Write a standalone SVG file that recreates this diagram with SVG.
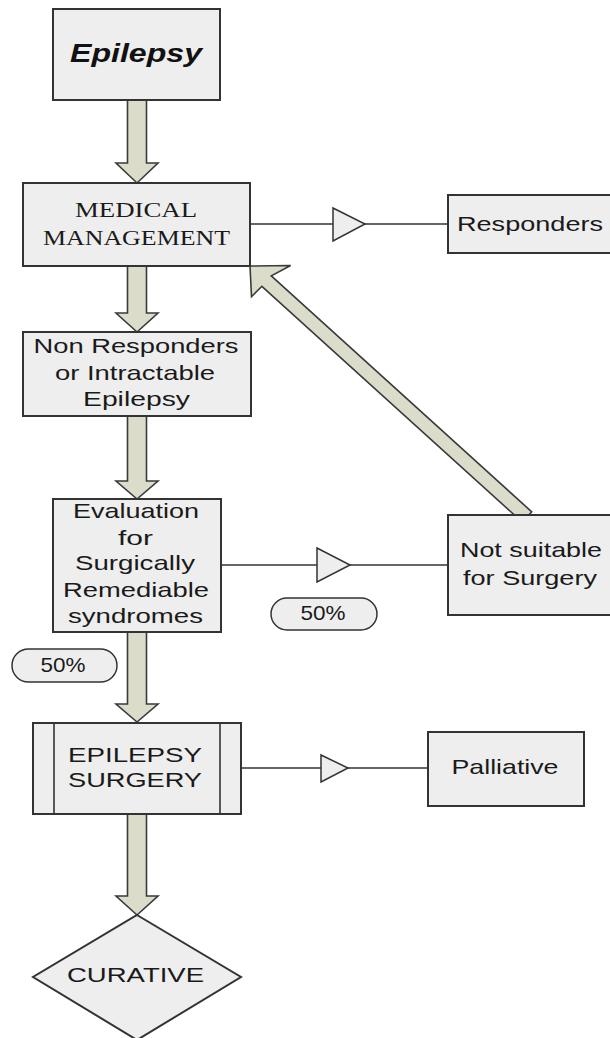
<svg xmlns="http://www.w3.org/2000/svg" width="610" height="1038" viewBox="0 0 610 1038">
<style>
.box{fill:#eeeeee;stroke:#333333;stroke-width:2}
.pill{fill:#eeeeee;stroke:#333333;stroke-width:1.5}
.line{fill:none;stroke:#333333;stroke-width:1.6}
.tri{fill:#eeeeee;stroke:#333333;stroke-width:1.5;stroke-linejoin:miter}
.blk{fill:#dcdcca;stroke:#3a3a3a;stroke-width:1.6;stroke-linejoin:miter}
.t{font-family:"Liberation Sans",Arial,sans-serif;font-size:21px;fill:#1a1a1a;text-anchor:middle}
.s{font-family:"Liberation Serif","Times New Roman",serif;font-size:22px;fill:#1a1a1a;text-anchor:middle}
</style>
<rect width="610" height="1038" fill="#ffffff"/>
<g id="connectors">
  <path class="blk" d="M127.5,100 L146.5,100 L146.5,163 L158,163 L137,183 L116,163 L127.5,163 Z"/>
  <path class="blk" d="M127.5,266 L146.5,266 L146.5,313 L158,313 L137,332 L116,313 L127.5,313 Z"/>
  <path class="blk" d="M127.5,416 L146.5,416 L146.5,481 L158,481 L137,499 L116,481 L127.5,481 Z"/>
  <path class="blk" d="M127.5,632 L146.5,632 L146.5,704 L158,704 L137,722 L116,704 L127.5,704 Z"/>
  <path class="blk" d="M127.5,814 L146.5,814 L146.5,896 L158,896 L137,915 L116,896 L127.5,896 Z"/>
  <path class="blk" d="M250,266 L290.6,265.5 L271.3,275.9 L531.7,511.8 L522.3,522.2 L261.9,286.3 L251.5,296.7 Z"/>
  <line class="line" x1="250" y1="224" x2="448" y2="224"/>
  <path class="tri" d="M333,208 L365,224 L333,241 Z"/>
  <line class="line" x1="221" y1="565" x2="448" y2="565"/>
  <path class="tri" d="M317,548 L350,565 L317,582 Z"/>
  <line class="line" x1="241" y1="768" x2="428" y2="768"/>
  <path class="tri" d="M321,755 L348,768 L321,782 Z"/>
</g>
<g id="node-epilepsy">
  <rect class="box" x="53" y="9" width="167" height="91"/>
  <text x="136" y="62" font-family="Liberation Sans,Arial,sans-serif" font-size="25" font-weight="bold" font-style="italic" text-anchor="middle" fill="#111" textLength="132" lengthAdjust="spacingAndGlyphs">Epilepsy</text>
</g>
<g id="node-medical">
  <rect class="box" x="23" y="183" width="227" height="83"/>
  <text class="s" x="136" y="217" textLength="122" lengthAdjust="spacingAndGlyphs">MEDICAL</text>
  <text class="s" x="136.5" y="245" textLength="187" lengthAdjust="spacingAndGlyphs">MANAGEMENT</text>
</g>
<g id="node-responders">
  <rect class="box" x="448" y="195" width="170" height="58"/>
  <text class="t" x="530" y="231" font-size="21" textLength="146" lengthAdjust="spacingAndGlyphs">Responders</text>
</g>
<g id="node-nonresponders">
  <rect class="box" x="23" y="332" width="228" height="84"/>
  <text class="t" x="136" y="353" textLength="205" lengthAdjust="spacingAndGlyphs">Non Responders</text>
  <text class="t" x="135" y="380" textLength="160" lengthAdjust="spacingAndGlyphs">or Intractable</text>
  <text class="t" x="136.5" y="406" textLength="107" lengthAdjust="spacingAndGlyphs">Epilepsy</text>
</g>
<g id="node-evaluation">
  <rect class="box" x="53" y="499" width="168" height="133"/>
  <text class="t" x="136" y="518" textLength="126" lengthAdjust="spacingAndGlyphs">Evaluation</text>
  <text class="t" x="135.5" y="545" textLength="35" lengthAdjust="spacingAndGlyphs">for</text>
  <text class="t" x="135" y="570" textLength="120" lengthAdjust="spacingAndGlyphs">Surgically</text>
  <text class="t" x="136" y="597" textLength="146" lengthAdjust="spacingAndGlyphs">Remediable</text>
  <text class="t" x="135.5" y="623" textLength="135" lengthAdjust="spacingAndGlyphs">syndromes</text>
</g>
<g id="node-notsuitable">
  <rect class="box" x="448" y="515" width="170" height="100"/>
  <text class="t" x="531" y="557" textLength="142" lengthAdjust="spacingAndGlyphs">Not suitable</text>
  <text class="t" x="530" y="585" textLength="134" lengthAdjust="spacingAndGlyphs">for Surgery</text>
</g>
<g id="label-50-right">
  <rect class="pill" x="271" y="598" width="106" height="32" rx="16" ry="16"/>
  <text class="t" x="323" y="620" font-size="16" textLength="45" lengthAdjust="spacingAndGlyphs">50%</text>
</g>
<g id="label-50-left">
  <rect class="pill" x="12" y="649" width="105" height="33" rx="16.5" ry="16.5"/>
  <text class="t" x="63" y="672" font-size="16" textLength="45" lengthAdjust="spacingAndGlyphs">50%</text>
</g>
<g id="node-surgery">
  <rect class="box" x="33" y="723" width="208" height="91"/>
  <line class="line" x1="54" y1="723" x2="54" y2="814" stroke-width="2"/>
  <line class="line" x1="220" y1="723" x2="220" y2="814" stroke-width="2"/>
  <text class="t" x="135" y="762" textLength="134" lengthAdjust="spacingAndGlyphs">EPILEPSY</text>
  <text class="t" x="135" y="787" textLength="134" lengthAdjust="spacingAndGlyphs">SURGERY</text>
</g>
<g id="node-palliative">
  <rect class="box" x="428" y="732" width="156" height="74"/>
  <text class="t" x="505" y="774" font-size="19" textLength="107" lengthAdjust="spacingAndGlyphs">Palliative</text>
</g>
<g id="node-curative">
  <path class="box" d="M137,915 L241,977 L137,1040 L33,977 Z" stroke-width="1.6"/>
  <text class="t" x="135.5" y="982" textLength="137" lengthAdjust="spacingAndGlyphs">CURATIVE</text>
</g>
</svg>
